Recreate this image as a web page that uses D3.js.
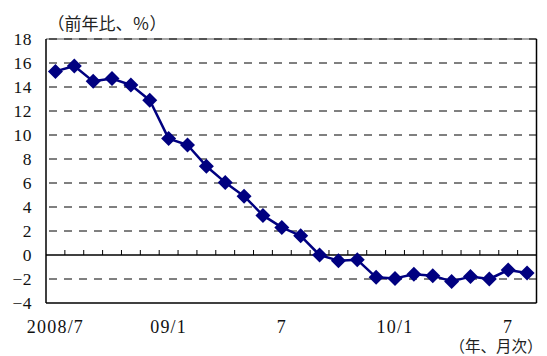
<!DOCTYPE html>
<html><head><meta charset="utf-8">
<script src="https://cdn.jsdelivr.net/npm/d3@7"></script>
<style>html,body{margin:0;padding:0;background:#fff;}</style>
</head><body>
<svg id="chart" width="547" height="356"></svg>
<script>
const categories = ["2008/7","8","9","10","11","12","09/1","2","3","4","5","6","7","8","9","10","11","12","10/1","2","3","4","5","6","7","8"];
const values = [15.3,15.75,14.47,14.7,14.17,12.9,9.7,9.17,7.4,6.05,4.9,3.3,2.3,1.6,0.0,-0.47,-0.4,-1.86,-1.95,-1.6,-1.72,-2.2,-1.8,-2.0,-1.25,-1.5];
const shownLabels = ["2008/7","09/1","7","10/1","7"];
const shownIdx = [0,6,12,18,24];
const yTicks = [-4,-2,0,2,4,6,8,10,12,14,16,18];
const yTitle = "（前年比、％）";
const xTitle = "（年、月次）";

const svg = d3.select("#chart");
const L = 46, R = 536.5, T = 39, B = 303;
const x = d3.scaleBand().domain(d3.range(categories.length)).range([L, R]);
const y = d3.scaleLinear().domain([-4, 18]).range([B, T]);
const cx = i => x(i) + x.bandwidth() / 2;

// gridlines
svg.append("line").attr("x1", L).attr("x2", R).attr("y1", y(18)).attr("y2", y(18))
  .attr("stroke", "#8a8a8a").attr("stroke-width", 1.5);
svg.append("g").selectAll("line").data(yTicks.filter(d => d !== 0 && d !== -4)).join("line")
  .attr("x1", L).attr("x2", R).attr("y1", d => y(d)).attr("y2", d => y(d))
  .attr("stroke", "#000").attr("stroke-width", 1).attr("stroke-dasharray", "8,7")
  .attr("stroke-dashoffset", -3);

// axes / borders
svg.append("line").attr("x1", L).attr("x2", L).attr("y1", T).attr("y2", B).attr("stroke", "#000").attr("stroke-width", 1.5);
svg.append("line").attr("x1", R).attr("x2", R).attr("y1", T).attr("y2", B).attr("stroke", "#000").attr("stroke-width", 1.5);
svg.append("line").attr("x1", L).attr("x2", R).attr("y1", B).attr("y2", B).attr("stroke", "#000").attr("stroke-width", 1.5);
svg.append("line").attr("x1", L).attr("x2", R).attr("y1", y(0)).attr("y2", y(0)).attr("stroke", "#000").attr("stroke-width", 1.5);
// ticks on zero line (category boundaries)
svg.append("g").selectAll("line").data(d3.range(1, categories.length)).join("line")
  .attr("x1", i => x(i)).attr("x2", i => x(i)).attr("y1", y(0)).attr("y2", y(0) - 5)
  .attr("stroke", "#000").attr("stroke-width", 1);

// y labels
svg.append("g").selectAll("text").data(yTicks).join("text")
  .attr("x", 32).attr("y", d => y(d)).attr("text-anchor", "end").attr("dominant-baseline", "central")
  .attr("font-family", "Liberation Serif").attr("font-size", 17.5).attr("letter-spacing", 0.5).attr("fill", "#111")
  .text(d => d < 0 ? "−" + Math.abs(d) : d);

// x labels
svg.append("g").selectAll("text").data(shownIdx).join("text")
  .attr("x", i => cx(i)).attr("y", 326.5).attr("text-anchor", "middle").attr("dominant-baseline", "central")
  .attr("font-family", "Liberation Serif").attr("font-size", 18).attr("letter-spacing", 1.2).attr("fill", "#111")
  .text((i, k) => shownLabels[k]);

// titles
svg.append("text").attr("x", 107).attr("y", 22).attr("text-anchor", "middle").attr("dominant-baseline", "central")
  .attr("font-family", "Noto Sans CJK JP").attr("font-size", 17).attr("fill", "#222").text(yTitle);
svg.append("text").attr("x", 496).attr("y", 351.5).attr("text-anchor", "middle")
  .attr("font-family", "Noto Sans CJK JP").attr("font-size", 15.5).attr("fill", "#222").text(xTitle);

// line
const line = d3.line().x((d, i) => cx(i)).y(d => y(d));
svg.append("path").datum(values).attr("d", line).attr("fill", "none")
  .attr("stroke", "#000080").attr("stroke-width", 2.5).attr("stroke-linejoin", "round");
// markers
const s = 7.5;
svg.append("g").selectAll("path").data(values).join("path")
  .attr("d", (d, i) => {
    const px = cx(i), py = y(d);
    return `M${px},${py - s}L${px + s},${py}L${px},${py + s}L${px - s},${py}Z`;
  })
  .attr("fill", "#000080");
</script>
</body></html>
